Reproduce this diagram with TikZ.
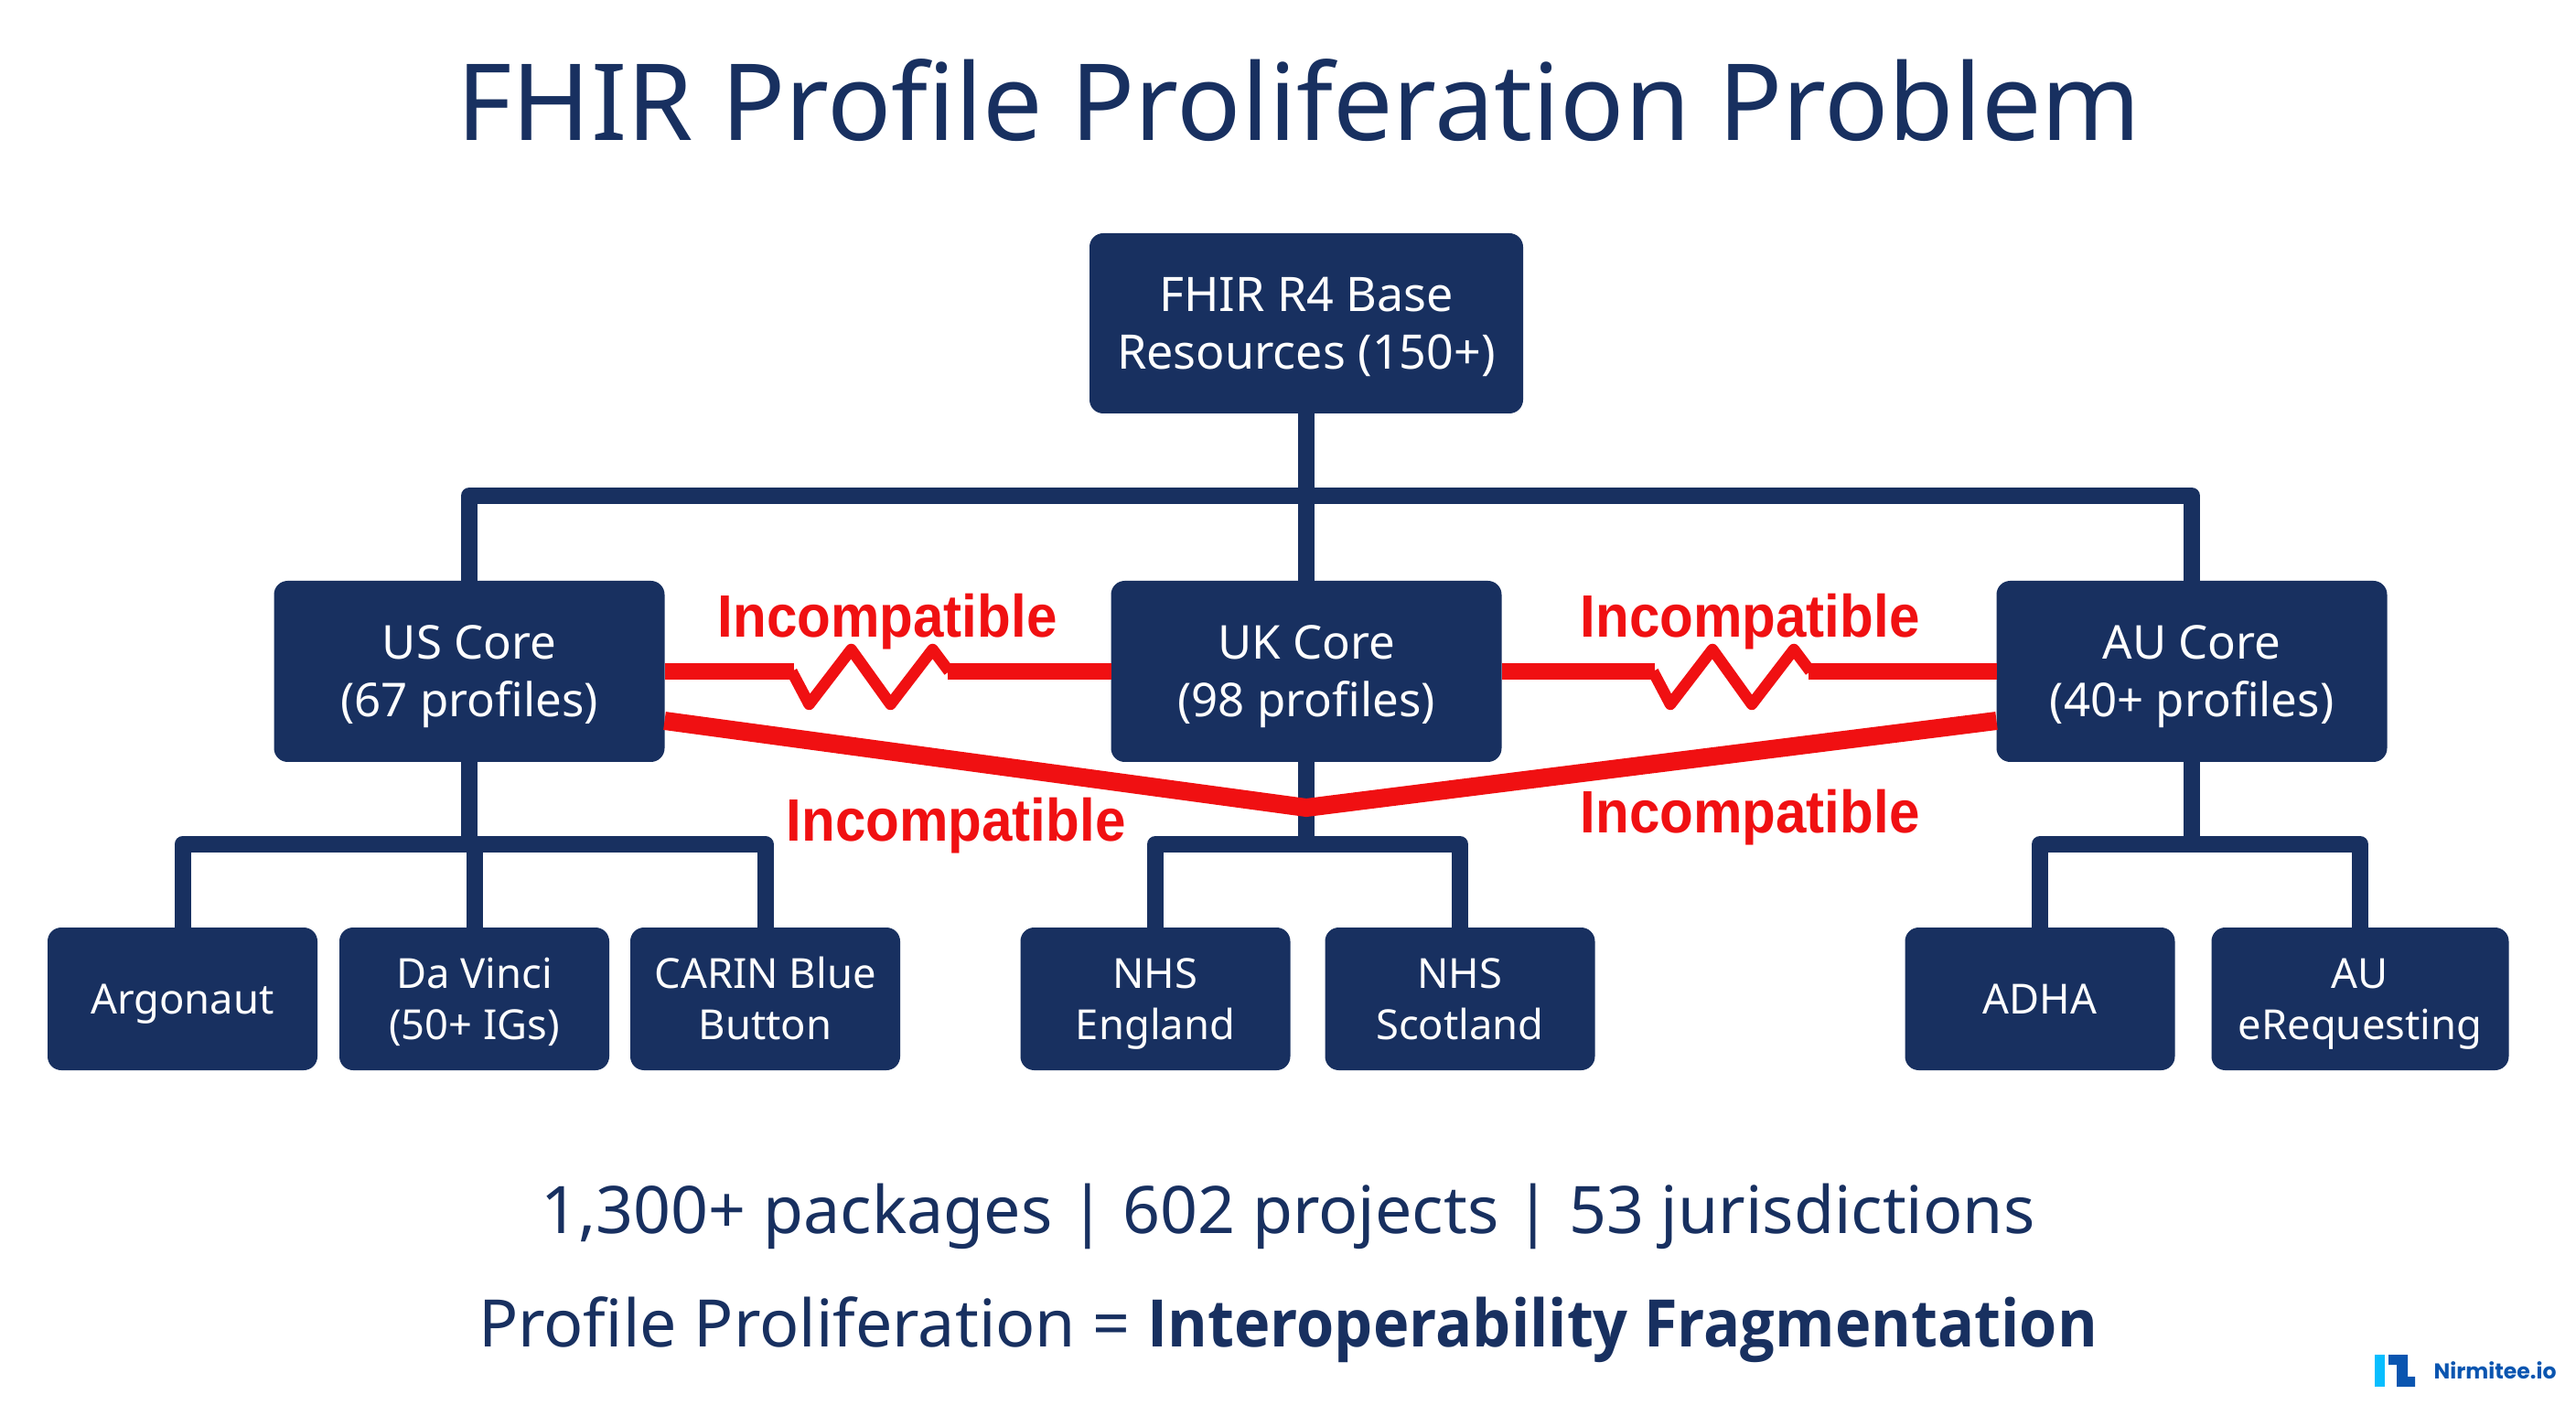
\documentclass[tikz,border=0pt]{standalone}
\usepackage{fontspec}
\setmainfont{Noto Sans}
\newfontfamily\incfont[FakeStretch=0.92]{Liberation Sans}
\newfontfamily\sumfont[FakeStretch=0.93]{Open Sans}
\newfontfamily\logofont{Poppins}
\usepackage{xcolor}
\usetikzlibrary{calc,positioning}
\definecolor{nv}{RGB}{24,48,96}
\definecolor{rd}{RGB}{240,16,18}
\definecolor{lgd}{RGB}{10,85,176}
\definecolor{lgl}{RGB}{8,190,255}
\newcommand{\lnstrut}{\rule[-0.21\baselineskip]{0pt}{\baselineskip}}

\begin{document}
\begin{tikzpicture}[
      textnv/.style={text=nv, inner sep=0pt},
      box/.style={rounded corners=1.5mm, fill=nv, text=white, align=center, inner sep=0pt, outer sep=0pt, font=\fontsize{14.5pt}{18pt}\selectfont},
      rootbox/.style={box, minimum width=47.4mm, minimum height=19.7mm, font=\fontsize{14.8pt}{18pt}\selectfont},
      corebox/.style={box, minimum width=42.7mm, minimum height=19.8mm},
      leafbox/.style={box, minimum width=29.5mm, minimum height=15.6mm, font=\fontsize{12.9pt}{16.2pt}\selectfont},
      bus/.style={draw=nv, line width=1.8mm, line join=round},
      redlink/.style={draw=rd, line width=1.8mm},
      redzig/.style={draw=rd, line width=1.25mm, line join=round},
      incomp/.style={text=rd, inner sep=0pt, font=\incfont\bfseries\fontsize{18.6pt}{20pt}\selectfont},
]

\useasboundingbox[fill=white] (0,0) rectangle (281.6mm,-153.6mm);

\node[textnv, font=\fontsize{33.1pt}{40pt}\selectfont] (title) at (142mm,-11mm) {FHIR Profile Proliferation Problem};

\node[rootbox] (root) at (142.8mm,-35.35mm) {FHIR R4 Base\lnstrut\\Resources (150+)\lnstrut};

\node[corebox, below=18.3mm of root] (uk) {UK Core\lnstrut\\(98 profiles)\lnstrut};
\node[corebox, left=48.8mm of uk] (us) {US Core\lnstrut\\(67 profiles)\lnstrut};
\node[corebox, right=54.1mm of uk] (au) {AU Core\lnstrut\\(40+ profiles)\lnstrut};

\node[leafbox, below=18.1mm of us, xshift=0.55mm] (davinci) {Da Vinci\lnstrut\\(50+ IGs)\lnstrut};
\node[leafbox, left=2.4mm of davinci] (argonaut) {Argonaut\lnstrut};
\node[leafbox, right=2.3mm of davinci] (carin) {CARIN Blue\lnstrut\\Button\lnstrut};

\node[leafbox, below=18.1mm of uk, xshift=-16.5mm] (england) {NHS\lnstrut\\England\lnstrut};
\node[leafbox, right=3.8mm of england] (scotland) {NHS\lnstrut\\Scotland\lnstrut};

\node[leafbox, below=18.1mm of au, xshift=-16.6mm] (adha) {ADHA\lnstrut};
\node[leafbox, right=4mm of adha, minimum width=32.5mm] (ereq) {AU\lnstrut\\eRequesting\lnstrut};

% tree
\coordinate (top_bus) at ($(root.south)+(0mm,-9mm)$);
\draw[bus] (root.south) -- (uk.north);
\draw[bus] (us.north) |- (top_bus) -| (au.north);

\foreach \parent/\kidl/\kidr in {us/argonaut/carin, uk/england/scotland, au/adha/ereq}{
  \coordinate (\parent_bus) at ($(\parent.south)+(0mm,-9mm)$);
  \draw[bus] (\parent.south) -- (\parent_bus);
  \draw[bus] (\kidl.north) |- (\parent_bus) -| (\kidr.north);
}
\draw[bus] (davinci.north) -- (davinci.north |- us_bus);

% incompatible links
\foreach \from/\to in {us/uk, uk/au}{
  \coordinate (zig) at ($(\from.east)!0.5!(\to.west)+(-1.9mm,0mm)$);
  \draw[redlink] (\from.east) -- ($(zig)+(-8.4mm,0mm)$);
  \draw[redlink] ($(zig)+(8.4mm,0mm)$) -- (\to.west);
  \draw[redzig] ($(zig)+(-8.6mm,0mm)$) -- ($(zig)+(-6.7mm,-3.6mm)$) -- ($(zig)+(-2.1mm,2.4mm)$)
     -- ($(zig)+(2.2mm,-3.6mm)$) -- ($(zig)+(6.8mm,2.4mm)$) -- ($(zig)+(8.6mm,0mm)$);
}
\coordinate (v_low) at ($(uk.south)+(0mm,-5mm)$);
\draw[redlink, line width=2mm] ($(us.east)+(0mm,-5.4mm)$) -- (v_low) -- ($(au.west)+(0mm,-5.4mm)$);

\node[incomp] (inc_a) at (97mm,-68mm) {Incompatible};
\node[incomp] (inc_b) at (191.3mm,-68mm) {Incompatible};
\node[incomp] (inc_c) at (104.5mm,-90.3mm) {Incompatible};
\node[incomp] (inc_d) at (191.3mm,-89.4mm) {Incompatible};

\node[textnv, font=\fontsize{20.4pt}{28pt}\selectfont] (stats) at (140.8mm,-133mm) {1,300+ packages | 602 projects | 53 jurisdictions};
\node[textnv, font=\fontsize{20.4pt}{28pt}\selectfont] (summary) at (140.8mm,-145.4mm) {Profile Proliferation = {\sumfont\bfseries Interoperability Fragmentation}};

% logo
\fill[lgl] (259.6mm,-148.1mm) rectangle (260.7mm,-151.6mm);
\fill[lgd] (261.1mm,-148.1mm) -- (263.2mm,-148.1mm) -- (263.2mm,-150.5mm) -- (264mm,-150.5mm)
   -- (264mm,-151.6mm) -- (262mm,-151.6mm) -- (262mm,-149.2mm) -- (261.1mm,-149.2mm) -- cycle;
\node[anchor=west, inner sep=0pt, text=lgd, font=\logofont\bfseries\fontsize{6.7pt}{8pt}\selectfont] (brand) at (266mm,-149.8mm) {Nirmitee.io};

\end{tikzpicture}
\end{document}
